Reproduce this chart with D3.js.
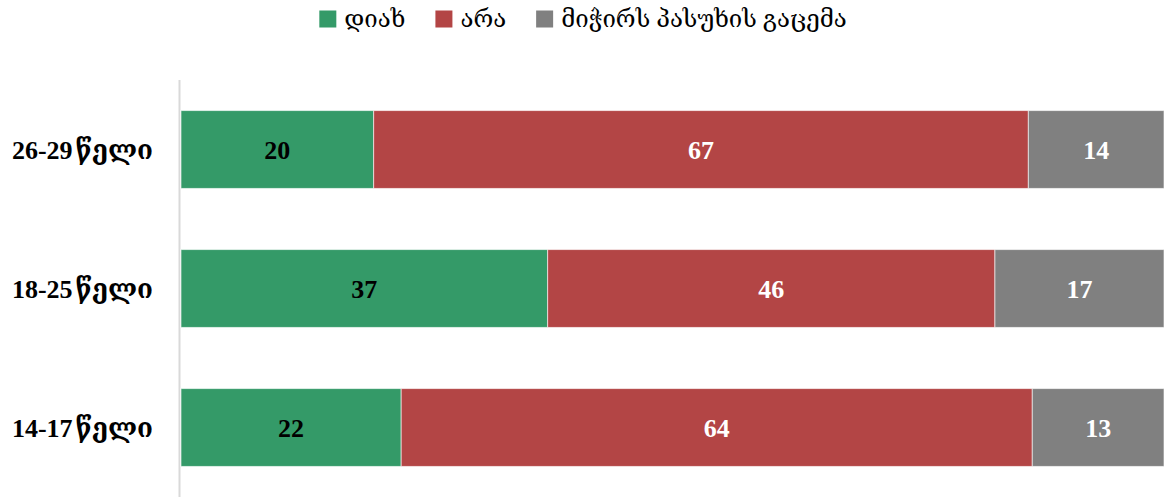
<!DOCTYPE html>
<html>
<head>
<meta charset="utf-8">
<script src="https://cdn.jsdelivr.net/npm/d3@7"></script>
<style>
  html, body { margin: 0; padding: 0; background: #fff; }
  svg { display: block; font-family: "Liberation Serif", "DejaVu Serif", serif; }
</style>
</head>
<body>
<svg id="chart"></svg>
<script>
// age groups, top to bottom
const groups = ['26-29 წელი', '18-25 წელი', '14-17 წელი'];
const seriesNames = ['დიახ', 'არა', 'მიჭირს პასუხის გაცემა'];
const yesValues = [19.6, 37.3, 22.4];
const noValues = [66.6, 45.5, 64.2];
const dkValues = [13.8, 17.2, 13.4];

const COLORS = ['#349a68', '#b34545', '#808080'];
const TEXT_COLORS = ['#000', '#fff', '#fff'];

const width = 1164, height = 497;
const margin = { top: 80, right: 0, bottom: 0, left: 181 };

const rows = groups.map((g, i) => ({
  group: g,
  [seriesNames[0]]: yesValues[i],
  [seriesNames[1]]: noValues[i],
  [seriesNames[2]]: dkValues[i],
}));

const stacked = d3.stack().keys(seriesNames).offset(d3.stackOffsetExpand)(rows);

const svg = d3.select('#chart')
  .attr('width', width)
  .attr('height', height)
  .attr('viewBox', `0 0 ${width} ${height}`);

const x = d3.scaleLinear().domain([0, 1]).range([margin.left, width - margin.right]);
const y = d3.scaleBand().domain(groups).range([margin.top, height - margin.bottom])
  .paddingInner(0.44).paddingOuter(0.22);

// axis line
svg.append('line')
  .attr('x1', margin.left - 1.5).attr('x2', margin.left - 1.5)
  .attr('y1', margin.top).attr('y2', height)
  .attr('stroke', '#d9d9d9').attr('stroke-width', 2);

stacked.forEach((layer, si) => {
  const g = svg.append('g');
  g.selectAll('rect')
    .data(layer)
    .join('rect')
    .attr('x', d => x(d[0]))
    .attr('y', d => y(d.data.group))
    .attr('width', d => x(d[1]) - x(d[0]))
    .attr('height', y.bandwidth())
    .attr('fill', COLORS[si])
    .attr('stroke', '#fff')
    .attr('stroke-opacity', 0.6)
    .attr('stroke-width', 1);

  g.selectAll('text')
    .data(layer)
    .join('text')
    .attr('x', d => (x(d[0]) + x(d[1])) / 2)
    .attr('y', d => y(d.data.group) + y.bandwidth() / 2)
    .attr('dy', '0.35em')
    .attr('text-anchor', 'middle')
    .attr('font-size', '26px')
    .attr('font-weight', 'bold')
    .attr('fill', TEXT_COLORS[si])
    .text(d => Math.round(d.data[seriesNames[si]]));
});

// category labels: number part bold, word part regular
const labels = svg.append('g').selectAll('text')
  .data(groups)
  .join('text')
  .attr('x', margin.left - 28)
  .attr('y', d => y(d) + y.bandwidth() / 2)
  .attr('dy', '0.35em')
  .attr('text-anchor', 'end')
  .attr('font-size', '26px')
  .attr('fill', '#000');
labels.append('tspan')
  .attr('font-weight', 'bold')
  .text(d => d.split(' ')[0]);
labels.append('tspan')
  .attr('dx', 3)
  .attr('font-weight', 'bold')
  .text(d => d.split(' ')[1]);

// legend
const legend = svg.append('g').attr('transform', 'translate(0, 19)');
const items = legend.selectAll('g')
  .data(seriesNames)
  .join('g');
items.append('rect')
  .attr('width', 17).attr('height', 17)
  .attr('y', -8.5)
  .attr('fill', (d, i) => COLORS[i]);
items.append('text')
  .attr('x', 25)
  .attr('dy', '0.35em')
  .attr('font-size', '24px')
  .attr('fill', '#000')
  .text(d => d);

const widths = [];
items.each(function() { widths.push(this.getBBox().width); });
const gap = 30;
const total = d3.sum(widths) + gap * (widths.length - 1);
let offset = 583 - total / 2;
items.attr('transform', (d, i) => {
  const t = `translate(${offset}, 0)`;
  offset += widths[i] + gap;
  return t;
});
</script>
</body>
</html>
